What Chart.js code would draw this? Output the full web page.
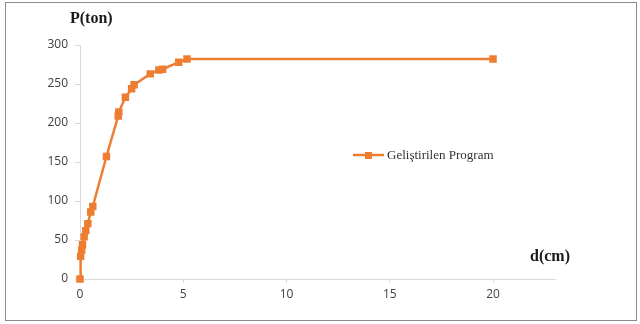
<!DOCTYPE html>
<html>
<head>
<meta charset="utf-8">
<script src="https://cdn.jsdelivr.net/npm/chart.js@4"></script>
<style>
  html, body { margin: 0; padding: 0; background: #fff; }
  #frame { position: absolute; left: 5px; top: 2px; width: 630px; height: 317px; border: 1px solid #8c8c8c; }
  #wrap { position: absolute; left: 0; top: 0; width: 640px; height: 324px; }
</style>
</head>
<body>
<div id="frame"></div>
<div id="wrap"><canvas id="chart" width="640" height="324"></canvas></div>
<script>
// deplasman (cm) ve yük (ton)
const dValues = [0, 0.03, 0.08, 0.12, 0.2, 0.28, 0.38, 0.52, 0.62, 1.28, 1.85, 1.88, 2.2, 2.5, 2.62, 3.4, 3.82, 4.0, 4.78, 5.18, 20];
const pValues = [0, 29, 37, 44, 54, 62, 71, 86, 93, 157, 209, 214, 233, 244, 249, 263, 268, 269, 278, 282, 282];
const xTicks = [0, 5, 10, 15, 20];
const yTicks = [0, 50, 100, 150, 200, 250, 300];
const seriesName = "Geliştirilen Program";
const orange = "#ED7D31";

const points = dValues.map((d, i) => ({ x: d, y: pValues[i] }));

const labelsPlugin = {
  id: "labels",
  afterDraw(c) {
    const ctx = c.ctx;
    ctx.save();
    ctx.fillStyle = "#1a1a1a";
    ctx.font = "bold 16px 'Liberation Serif'";
    ctx.textBaseline = "middle";
    ctx.textAlign = "left";
    ctx.fillText("P(ton)", 70, 19);
    ctx.fillText("d(cm)", 530, 257);
    // legend
    ctx.strokeStyle = orange;
    ctx.lineWidth = 2.5;
    ctx.beginPath();
    ctx.moveTo(353, 155);
    ctx.lineTo(384, 155);
    ctx.stroke();
    ctx.fillStyle = orange;
    ctx.fillRect(365, 152, 7, 7);
    ctx.fillStyle = "#333";
    ctx.font = "13px 'Liberation Serif'";
    ctx.fillText(seriesName, 387, 156);
    ctx.restore();
  }
};

new Chart(document.getElementById("chart").getContext("2d"), {
  type: "scatter",
  data: {
    datasets: [{
      label: seriesName,
      data: points,
      showLine: true,
      clip: false,
      borderColor: orange,
      backgroundColor: orange,
      borderWidth: 2.5,
      pointStyle: "rect",
      pointRadius: 3.5,
      pointHoverRadius: 3.5
    }]
  },
  options: {
    responsive: false,
    animation: false,
    events: [],
    layout: { padding: { top: 45, right: 85, left: 0, bottom: 0 } },
    plugins: { legend: { display: false }, tooltip: { enabled: false } },
    scales: {
      x: {
        type: "linear",
        min: 0,
        max: 23,
        afterBuildTicks: s => { s.ticks = xTicks.map(v => ({ value: v })); },
        afterFit: s => { s.height = 45; },
        grid: { drawOnChartArea: false, drawTicks: true, tickLength: 4, color: "#d9d9d9" },
        border: { color: "#d9d9d9" },
        ticks: { color: "#404040", font: { family: "'Open Sans'", size: 12 }, padding: 4, maxRotation: 0 }
      },
      y: {
        type: "linear",
        min: 0,
        max: 300,
        afterBuildTicks: s => { s.ticks = yTicks.map(v => ({ value: v })); },
        afterFit: s => { s.width = 80; },
        grid: { drawOnChartArea: false, drawTicks: true, tickLength: 5, color: "#d9d9d9" },
        border: { color: "#d9d9d9" },
        ticks: { color: "#404040", font: { family: "'Open Sans'", size: 12 }, padding: 7 }
      }
    }
  },
  plugins: [labelsPlugin]
});
</script>
</body>
</html>
